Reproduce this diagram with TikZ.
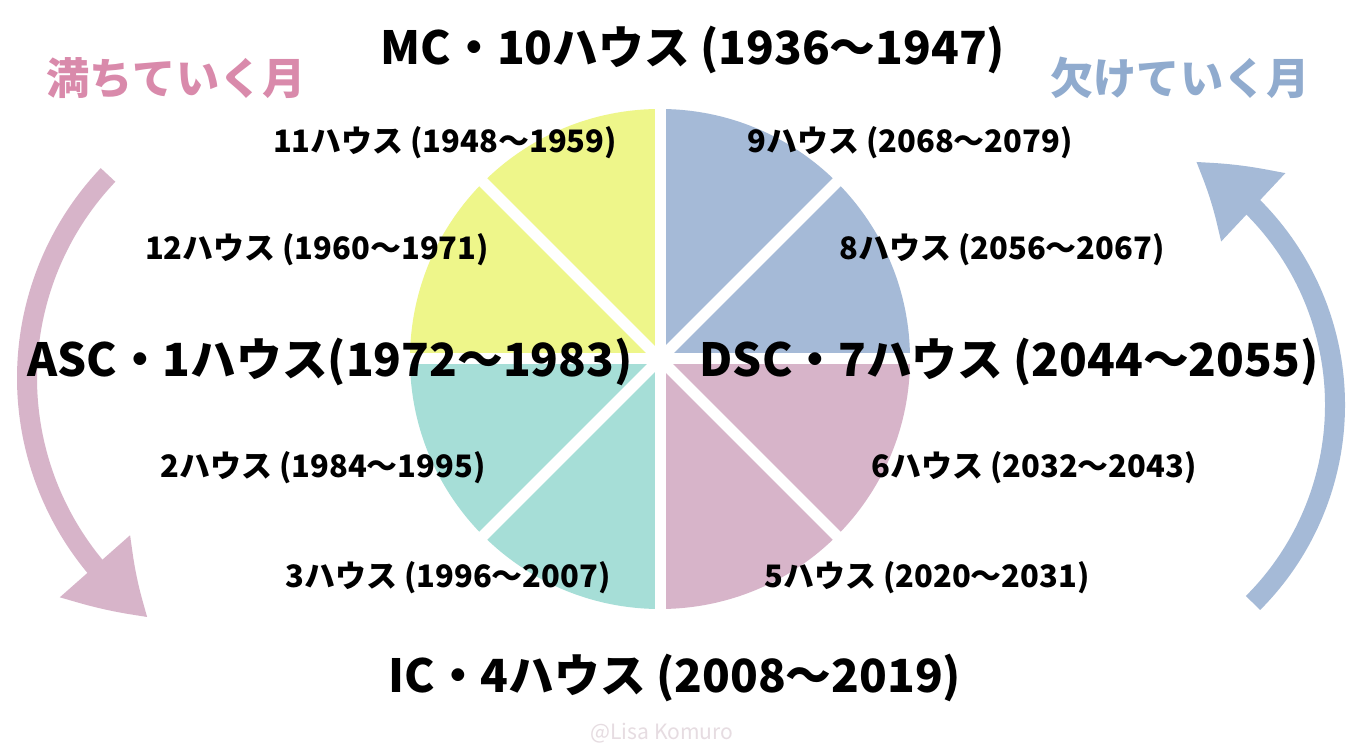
\documentclass[tikz,border=0pt]{standalone}
\usepackage{fontspec}
\setmainfont{Noto Sans CJK JP}
\usepackage{tikz}
\usetikzlibrary{arrows.meta,bending,positioning}

\definecolor{pieyellow}{HTML}{EEF68A}
\definecolor{pieblue}{HTML}{A5BAD7}
\definecolor{piepink}{HTML}{D7B4C9}
\definecolor{pieteal}{HTML}{A6DED7}
\definecolor{waxpink}{HTML}{D98AAB}
\definecolor{wanblue}{HTML}{90ABCE}
\definecolor{signgray}{HTML}{E6DCE1}

\begin{document}
\begin{tikzpicture}[x=0.1mm, y=0.1mm,
  house/.style={font=\fontsize{8.8}{10}\selectfont\bfseries, inner sep=0pt},
  axis/.style={font=\fontsize{13}{15}\selectfont\bfseries, inner sep=0pt},
  moon/.style={font=\fontsize{12.3}{14}\selectfont\bfseries, inner sep=0pt},
  gap/.style={white, line width=1.1mm},
  flow/.style={line width=2mm, -{Triangle[width=8.8mm, length=7.4mm, bend]}}
]
\fill[white] (0,0) rectangle (1350,750);
\useasboundingbox (0,0) rectangle (1350,750);

% pie of the houses
\coordinate (ctr) at (660,391);
\foreach \a/\c in {0/pieblue, 90/pieyellow, 180/pieteal, 270/piepink}{
  \fill[\c] (ctr) -- ++(\a:25mm) arc (\a:\a+90:25mm) -- cycle;
}
\foreach \a in {0,45,90,135}{
  \draw[gap] ([shift={(\a:26mm)}]ctr) -- ([shift={(\a+180:26mm)}]ctr);
}

% waxing / waning arrows
\coordinate (lc) at (322,372);
\coordinate (rc) at (1055,345);
\draw[flow, piepink] ([shift={(136.5:29.5mm)}]lc) arc (136.5:234:29.5mm);
\draw[flow, pieblue] ([shift={(-45:28mm)}]rc) arc (-45:60:28mm);

% angles
\node[axis] (mc)  at (693,700) {MC・10ハウス (1936～1947)};
\node[axis] (ic)  at (675,72)  {IC・4ハウス (2008～2019)};
\node[axis] (asc) at (330,388) {ASC・1ハウス(1972～1983)};
\node[axis] (dsc) at (1009,388) {DSC・7ハウス (2044～2055)};

% houses
\node[house] (h11) at (445,607)  {11ハウス (1948～1959)};
\node[house] (h9)  at (910,607)  {9ハウス (2068～2079)};
\node[house] (h12) at (317,500)  {12ハウス (1960～1971)};
\node[house] (h8)  at (1002,500) {8ハウス (2056～2067)};
\node[house] (h2)  at (323,282)  {2ハウス (1984～1995)};
\node[house] (h6)  at (1034,282) {6ハウス (2032～2043)};
\node[house] (h3)  at (448,172)  {3ハウス (1996～2007)};
\node[house] (h5)  at (927,172)  {5ハウス (2020～2031)};

% moon phases
\node[moon, text=waxpink] (waxing) at (176,672)  {満ちていく月};
\node[moon, text=wanblue] (waning) at (1180,672) {欠けていく月};

\node[font=\fontsize{6}{7}\selectfont\itshape, text=signgray, inner sep=0pt] (sign) at (662,17) {@Lisa Komuro};
\end{tikzpicture}
\end{document}
